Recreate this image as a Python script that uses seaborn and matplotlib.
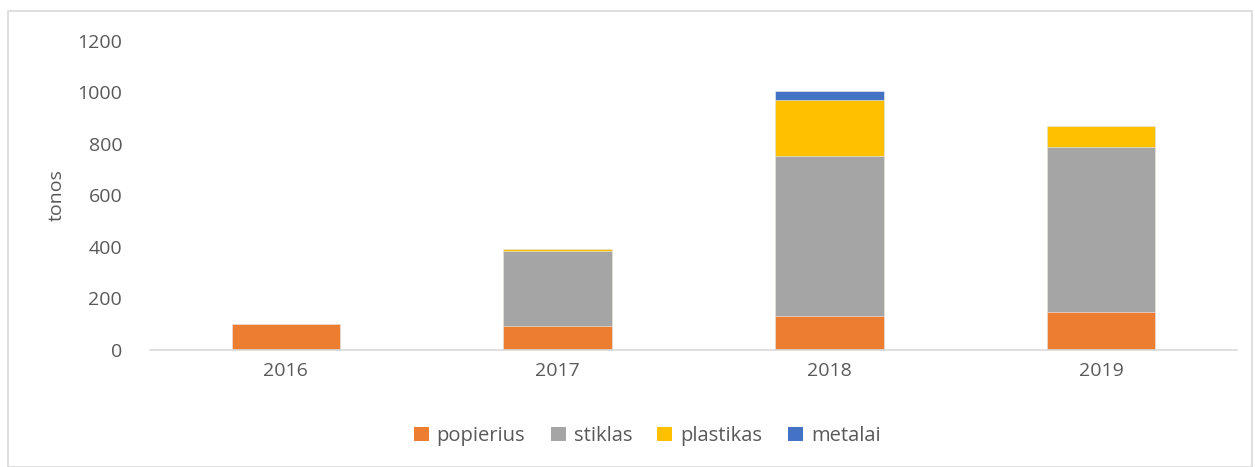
import matplotlib
matplotlib.use("Agg")
import matplotlib.pyplot as plt
import seaborn as sns
import numpy as np
import pandas as pd
from matplotlib.patches import Rectangle, Patch

years = ["2016", "2017", "2018", "2019"]
popierius = [101, 92, 130, 146]
stiklas = [0, 293, 621, 640]
plastikas = [0, 5, 220, 83]
metalai = [0, 0, 35, 0]
series_names = ["popierius", "stiklas", "plastikas", "metalai"]
colors = ["#ED7D31", "#A5A5A5", "#FFC000", "#4472C4"]
yticks = [0, 200, 400, 600, 800, 1000, 1200]

sns.set_theme(style="white")
plt.rcParams['font.family'] = ['Open Sans', 'DejaVu Sans']

fig = plt.figure(figsize=(12.55, 4.67), dpi=100)
ax = fig.add_axes([150/1255, 1 - 350/467, (1237-150)/1255, (350-40.7)/467])

values = [popierius, stiklas, plastikas, metalai]
cum = np.cumsum(np.array(values), axis=0)
# draw from top layer down so lower layers overlap
for i in range(len(series_names) - 1, -1, -1):
    df = pd.DataFrame({"year": years, "val": cum[i]})
    sns.barplot(data=df, x="year", y="val", color=colors[i], width=0.4,
                ax=ax, saturation=1, edgecolor="#F2F2F2", linewidth=0.4)

ax.set_ylim(0, 1200)
ax.set_xlim(-0.5, 3.5)
ax.set_yticks(yticks)
ax.set_yticklabels([str(t) for t in yticks])
ax.tick_params(axis="both", colors="#595959", labelsize=14, length=0)
ax.tick_params(axis="y", pad=20)
ax.tick_params(axis="x", pad=9)
ax.set_xlabel("")
ax.set_ylabel("tonos", color="#595959", fontsize=14, labelpad=8)
for s in ["top", "right", "left"]:
    ax.spines[s].set_visible(False)
ax.spines["bottom"].set_color("#D9D9D9")
ax.spines["bottom"].set_linewidth(1.2)
ax.grid(False)

handles = [Patch(facecolor=c, edgecolor="none", label=n) for c, n in zip(colors, series_names)]
leg = fig.legend(handles=handles, loc="center", bbox_to_anchor=(647/1255, 1 - 436/467),
                 ncol=4, frameon=False, fontsize=14.5, handlelength=0.75, handleheight=0.75,
                 handletextpad=0.4, columnspacing=1.25)
for t in leg.get_texts():
    t.set_color("#595959")

fig.patches.append(Rectangle((8/1255, 0), 1 - 8/1255 - 3/1255, 1 - 11/467, transform=fig.transFigure,
                             fill=False, edgecolor="#D9D9D9", linewidth=1.2))

fig.savefig("out.png", dpi=100, facecolor="white")
